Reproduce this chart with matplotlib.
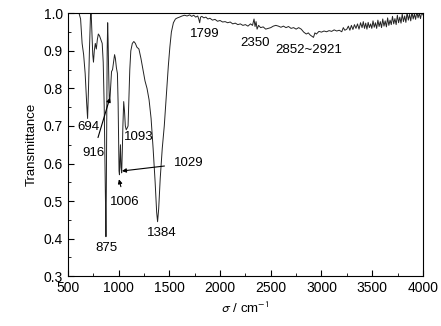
import matplotlib
matplotlib.use("Agg")
import matplotlib.pyplot as plt
from matplotlib.ticker import MultipleLocator

plt.rcParams['font.family'] = ['Liberation Sans', 'DejaVu Sans']
plt.rcParams['mathtext.fontset'] = 'stixsans'

# IR spectrum: wavenumber (cm-1) and transmittance
# (rows of ten so both lists line up)
wavenumber = [600, 615, 625, 640, 655, 670, 685, 694, 703, 712,
              722, 728, 736, 745, 752, 760, 770, 780, 790, 800,
              812, 825, 838, 848, 858, 866, 872, 875, 878, 882,
              887, 892, 896, 902, 908, 913, 920, 930, 940, 950,
              960, 968, 978, 988, 995, 1000, 1004, 1008, 1012, 1018,
              1024, 1030, 1036, 1042, 1050, 1058, 1066, 1075, 1085, 1093,
              1100, 1110, 1120, 1135, 1150, 1165, 1180, 1200, 1220, 1240,
              1260, 1280, 1300, 1320, 1340, 1360, 1375, 1384, 1395, 1410,
              1430, 1450, 1470, 1490, 1505, 1520, 1540, 1560, 1580, 1600,
              1625, 1650, 1675, 1700, 1720, 1740, 1760, 1780, 1790, 1799,
              1808, 1820, 1840, 1860, 1880, 1900, 1925, 1950, 1975, 2000,
              2025, 2050, 2075, 2100, 2125, 2150, 2175, 2200, 2225, 2250,
              2275, 2300, 2320, 2335, 2345, 2355, 2365, 2380, 2400, 2425,
              2450, 2475, 2500, 2525, 2550, 2575, 2600, 2625, 2650, 2675,
              2700, 2725, 2750, 2775, 2800, 2825, 2850, 2870, 2890, 2910,
              2921, 2935, 2950, 2975, 3000, 3025, 3050, 3075, 3100, 3125,
              3150, 3175, 3200, 3215, 3230, 3250, 3265, 3280, 3295, 3310,
              3325, 3340, 3355, 3370, 3385, 3400, 3412, 3424, 3436, 3448,
              3460, 3472, 3484, 3496, 3508, 3520, 3532, 3544, 3556, 3568,
              3580, 3592, 3604, 3616, 3628, 3640, 3652, 3664, 3676, 3688,
              3700, 3712, 3724, 3736, 3748, 3760, 3772, 3784, 3796, 3808,
              3820, 3832, 3844, 3856, 3868, 3880, 3892, 3904, 3916, 3928,
              3940, 3952, 3964, 3976, 3988, 4000]
transmittance = [1.01, 0.995, 0.985, 0.92, 0.89, 0.84, 0.76, 0.72, 0.80, 0.90,
                 0.99, 1.01, 0.95, 0.89, 0.87, 0.90, 0.92, 0.905, 0.93, 0.945,
                 0.94, 0.93, 0.92, 0.87, 0.75, 0.58, 0.45, 0.405, 0.50, 0.70,
                 0.90, 0.975, 0.93, 0.84, 0.77, 0.765, 0.80, 0.845, 0.85, 0.87,
                 0.89, 0.88, 0.855, 0.84, 0.76, 0.65, 0.58, 0.57, 0.60, 0.65,
                 0.59, 0.575, 0.63, 0.70, 0.765, 0.74, 0.70, 0.69, 0.695, 0.70,
                 0.76, 0.85, 0.90, 0.92, 0.925, 0.92, 0.91, 0.905, 0.88, 0.85,
                 0.82, 0.80, 0.77, 0.72, 0.64, 0.55, 0.47, 0.445, 0.48, 0.56,
                 0.64, 0.70, 0.78, 0.86, 0.91, 0.95, 0.975, 0.985, 0.988, 0.990,
                 0.993, 0.995, 0.993, 0.996, 0.992, 0.995, 0.990, 0.993, 0.985, 0.975,
                 0.990, 0.992, 0.988, 0.990, 0.985, 0.987, 0.982, 0.984, 0.979, 0.981,
                 0.977, 0.978, 0.975, 0.977, 0.972, 0.974, 0.970, 0.972, 0.968, 0.970,
                 0.966, 0.972, 0.968, 0.985, 0.965, 0.978, 0.958, 0.968, 0.962, 0.964,
                 0.958, 0.960, 0.962, 0.966, 0.968, 0.966, 0.963, 0.966, 0.962, 0.965,
                 0.960, 0.962, 0.958, 0.962, 0.958, 0.950, 0.945, 0.948, 0.942, 0.938,
                 0.936, 0.948, 0.945, 0.952, 0.950, 0.953, 0.951, 0.954, 0.952, 0.956,
                 0.953, 0.955, 0.951, 0.962, 0.955, 0.958, 0.966, 0.955, 0.968, 0.957,
                 0.970, 0.960, 0.972, 0.958, 0.975, 0.962, 0.978, 0.960, 0.974, 0.958,
                 0.976, 0.962, 0.972, 0.960, 0.980, 0.963, 0.975, 0.960, 0.982, 0.965,
                 0.978, 0.962, 0.985, 0.966, 0.980, 0.964, 0.988, 0.968, 0.982, 0.970,
                 0.992, 0.972, 0.986, 0.970, 0.995, 0.975, 0.990, 0.974, 0.998, 0.978,
                 0.993, 0.976, 1.002, 0.982, 0.997, 0.980, 1.004, 0.985, 0.998, 0.984,
                 1.005, 0.988, 1.000, 0.986, 1.004, 0.996]

# peak labels: text, label position
peak_labels = ["694", "1093", "875", "1384", "1799", "2350", "2852~2921"]
peak_pos = [(707, 0.697), (1200, 0.67), (875, 0.375), (1427, 0.415),
            (1851, 0.945), (2344, 0.92), (2871, 0.903)]

# labels with arrows: text, label position, arrow target
arrow_labels = ["916", "1006", "1029"]
arrow_text_pos = [(751, 0.628), (1062, 0.497), (1693, 0.601)]
arrow_targets = [(914, 0.775), (1003, 0.558), (1032, 0.58)]

fig = plt.figure(figsize=(4.41, 3.26), dpi=100)
ax = fig.add_axes([0.154, 0.153, 0.805, 0.806])

ax.plot(wavenumber, transmittance, color='#222222', lw=0.7)

ax.set_xlim(500, 4000)
ax.set_ylim(0.3, 1.0)
ax.xaxis.set_major_locator(MultipleLocator(500))
ax.xaxis.set_minor_locator(MultipleLocator(250))
ax.yaxis.set_major_locator(MultipleLocator(0.1))
ax.yaxis.set_minor_locator(MultipleLocator(0.05))
ax.tick_params(which='both', direction='in', top=False, right=False, labelsize=10)
ax.tick_params(which='major', length=4)
ax.tick_params(which='minor', length=2)
for s in ax.spines.values():
    s.set_linewidth(0.8)

ax.set_xlabel(r'$\sigma$ / cm$^{-1}$', fontsize=9.5)
ax.set_ylabel('Transmittance', fontsize=9.5)

for lab, (x, y) in zip(peak_labels, peak_pos):
    ax.text(x, y, lab, fontsize=9.5, ha='center', va='center')

for lab, (x, y), (tx, ty) in zip(arrow_labels, arrow_text_pos, arrow_targets):
    ax.annotate(lab, xy=(tx, ty), xytext=(x, y), fontsize=9.5, ha='center', va='center',
                arrowprops=dict(arrowstyle='-|>', color='black', lw=0.8,
                                mutation_scale=6, shrinkA=5, shrinkB=0))

fig.savefig('out.png', dpi=100)
